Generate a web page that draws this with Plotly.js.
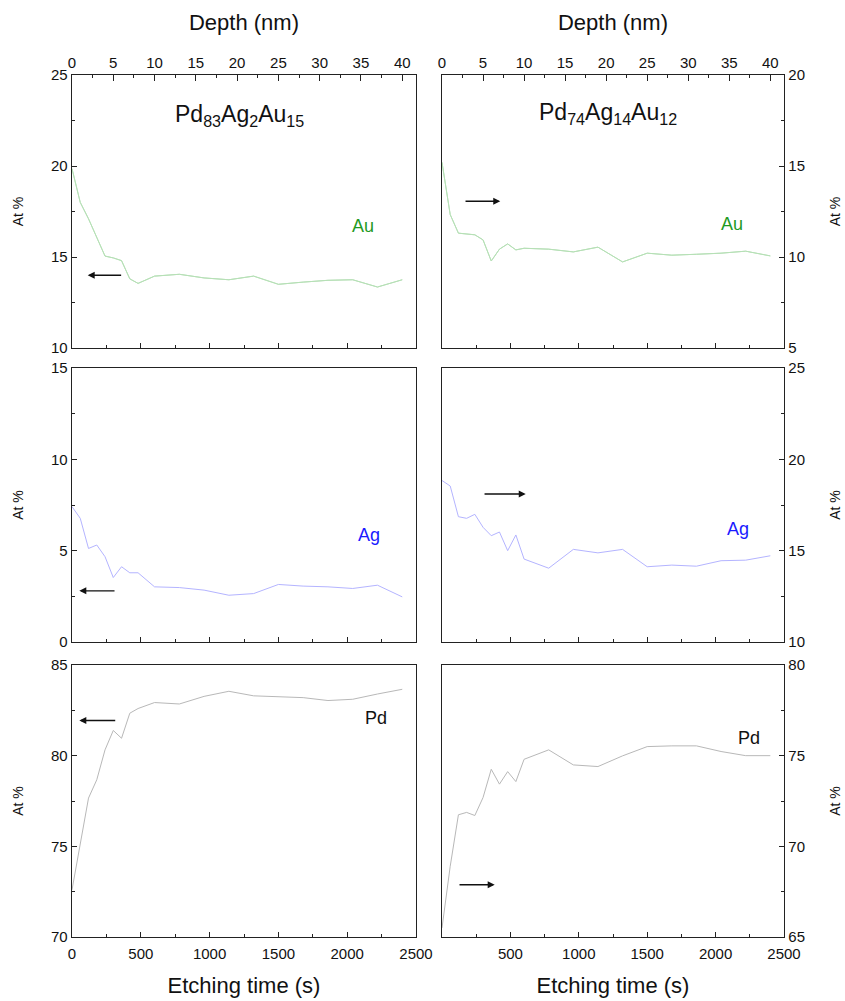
<!DOCTYPE html>
<html>
<head>
<meta charset="utf-8">
<script src="https://cdn.plot.ly/plotly-3.0.1.min.js"></script>
<style>html,body{margin:0;padding:0;background:#fff;}#chart{width:845px;height:1001px;}</style>
</head>
<body>
<div id="chart"></div>
<script>
// ---------- data ----------
const timeLeft = [0,60,120,180,240,300,360,420,480,600,780,960,1140,1320,1500,1680,1860,2040,2220,2400];
const auLeft = [19.85,18.0,17.1,16.05,15.05,14.95,14.8,13.8,13.55,13.95,14.05,13.85,13.75,13.95,13.5,13.62,13.72,13.75,13.35,13.75];
const agLeft = [7.41,6.77,5.12,5.31,4.67,3.53,4.12,3.79,3.79,3.02,2.98,2.84,2.56,2.65,3.15,3.06,3.02,2.93,3.11,2.47];
const pdLeft = [72.6,75.2,77.66,78.67,80.32,81.39,80.96,82.34,82.6,82.93,82.85,83.27,83.55,83.3,83.25,83.2,83.04,83.11,83.4,83.66];

const timeRight = [0,60,120,180,240,300,360,420,480,540,600,780,960,1140,1320,1500,1680,1860,2040,2220,2400];
const auRight = [15.2,12.33,11.31,11.27,11.22,10.94,9.78,10.43,10.72,10.39,10.48,10.43,10.28,10.54,9.73,10.21,10.1,10.15,10.21,10.32,10.06];
const agRight = [18.84,18.54,16.86,16.77,16.99,16.28,15.82,16.02,15.0,15.86,14.54,14.04,15.07,14.88,15.07,14.12,14.21,14.15,14.45,14.48,14.72];
const pdRight = [65.5,68.9,71.74,71.87,71.7,72.69,74.25,73.43,74.12,73.57,74.8,75.32,74.49,74.4,74.99,75.5,75.54,75.54,75.23,75.0,75.0];

const sampleNames = ['Pd<sub>83</sub>Ag<sub>2</sub>Au<sub>15</sub>', 'Pd<sub>74</sub>Ag<sub>14</sub>Au<sub>12</sub>'];
const elementNames = ['Au','Au','Ag','Ag','Pd','Pd'];
const yRanges = [[10,25],[5,20],[0,15],[10,25],[70,85],[65,80]];
const timeRange = [0,2500];
const timeTicks = [0,500,1000,1500,2000,2500];
const timeTickTextRight = ['','500','1000','1500','2000','2500'];
const secondsPerNm = 60;

// arrows (time s, At %)
const arrowTailT = [368,161,320,300,325,117];
const arrowHeadT = [114,426,53,612,53,385];
const arrowLevel = [14.0,13.06,2.8,18.1,81.94,67.88];
// element label anchors (time s, At %)
const labelT = [2112,2120,2160,2164,2209,2244];
const labelY = [16.68,11.8,5.85,16.2,82.06,76.0];
// sample name anchors
const sampleT = [1216,1213];
const sampleY = [22.8,17.9];

// ---------- styles ----------
const FONT = 'Liberation Sans, Arial, Helvetica, sans-serif';
const lineColors = {Au:'#b6e0b6', Ag:'#b4b4ff', Pd:'#b8b8b8'};
const labelColors = {Au:'#1f9a1f', Ag:'#1a1aff', Pd:'#111111'};

const series = [
  {x: timeLeft, y: auLeft, el:'Au'},
  {x: timeRight, y: auRight, el:'Au'},
  {x: timeLeft, y: agLeft, el:'Ag'},
  {x: timeRight, y: agRight, el:'Ag'},
  {x: timeLeft, y: pdLeft, el:'Pd'},
  {x: timeRight, y: pdRight, el:'Pd'}
];

const traces = series.map((s,i) => ({
  type:'scatter', mode:'lines', x:s.x, y:s.y,
  xaxis: i===0 ? 'x' : 'x'+(i+1), yaxis: i===0 ? 'y' : 'y'+(i+1),
  line:{color: lineColors[s.el], width:1}, hoverinfo:'skip'
}));

const colL = [72/845, 416/845], colR = [442/845, 784/845];
const rows = [[1-348/1001, 1-75/1001],[1-642/1001, 1-368/1001],[1-937/1001, 1-665/1001]];

const tickFont = {family: FONT, size: 15, color:'#111'};
const titleFont = {family: FONT, size: 22, color:'#111'};

const layout = {
  width:845, height:1001, margin:{l:0,r:0,t:0,b:0},
  paper_bgcolor:'#fff', plot_bgcolor:'#fff', showlegend:false,
  font:{family:FONT, color:'#111'},
  annotations:[]
};

for (let i=0;i<6;i++){
  const col = i%2===0 ? colL : colR;
  const row = rows[Math.floor(i/2)];
  const xn = i===0 ? 'xaxis' : 'xaxis'+(i+1);
  const yn = i===0 ? 'yaxis' : 'yaxis'+(i+1);
  const xid = i===0 ? 'x' : 'x'+(i+1);
  const yid = i===0 ? 'y' : 'y'+(i+1);
  const bottom = i>=4;
  const xa = {
    domain: col, anchor: yid, range: timeRange,
    ticks:'inside', ticklen:5, tickwidth:1, tickcolor:'#222',
    tickvals: timeTicks, ticktext: (i===5 ? timeTickTextRight : timeTicks.map(String)),
    minor:{ticks:'inside', ticklen:3, tick0:0, dtick:250, tickcolor:'#222'},
    showticklabels: bottom, tickfont: tickFont, ticklabelstandoff: 3,
    showline:true, mirror:true, linecolor:'#222', linewidth:1.3,
    showgrid:false, zeroline:false, fixedrange:true
  };
  if (bottom) xa.title = {text:'Etching time (s)', font:titleFont, standoff:16};
  layout[xn] = xa;
  const ya = {
    domain: row, anchor: xid, range: yRanges[i], side: i%2===0 ? 'left' : 'right',
    ticks:'inside', ticklen:5, tickwidth:1, tickcolor:'#222', dtick:5, tick0:0,
    minor:{ticks:'inside', ticklen:3, dtick:2.5, tick0:0, tickcolor:'#222'},
    tickfont: tickFont,
    showline:true, mirror:true, linecolor:'#222', linewidth:1.3,
    showgrid:false, zeroline:false, fixedrange:true,
    title:{text:'At %', font:{family:FONT, size:14, color:'#111'}, standoff: i%2===0 ? 24 : 26}
  };
  layout[yn] = ya;

  // arrow
  layout.annotations.push({
    xref:xid, yref:yid, axref:xid, ayref:yid,
    x: arrowHeadT[i], y: arrowLevel[i], ax: arrowTailT[i], ay: arrowLevel[i],
    text:'', showarrow:true, arrowhead:2, arrowsize:1, arrowwidth:1.4, arrowcolor:'#111'
  });
  // element label
  layout.annotations.push({
    xref:xid, yref:yid, x: labelT[i], y: labelY[i], text: elementNames[i],
    showarrow:false, font:{family:FONT, size:18, color: labelColors[elementNames[i]]}
  });
}

// sample names
for (let k=0;k<2;k++){
  layout.annotations.push({
    xref: k===0 ? 'x' : 'x2', yref: k===0 ? 'y' : 'y2',
    x: sampleT[k], y: sampleY[k], text: sampleNames[k], showarrow:false,
    font:{family:FONT, size:23, color:'#111'}
  });
}

// depth axes on top of the upper panels
const depthRange = [timeRange[0]/secondsPerNm, timeRange[1]/secondsPerNm];
['xaxis7','xaxis8'].forEach((n,k) => {
  layout[n] = {
    overlaying: k===0 ? 'x' : 'x2', anchor: k===0 ? 'y' : 'y2', side:'top',
    range: depthRange, dtick:5, tick0:0,
    ticks:'inside', ticklen:6, tickwidth:1, tickcolor:'#222',
    minor:{ticks:'inside', ticklen:3, dtick:2.5, tick0:0, tickcolor:'#222'},
    tickfont: tickFont, showline:true, linecolor:'#222', linewidth:1.3,
    showgrid:false, zeroline:false, fixedrange:true,
    title:{text:'Depth (nm)', font:titleFont, standoff:17}
  };
});
// depth traces (same measurements, converted to nm) so the depth axes are bound to data
traces.push({type:'scatter', mode:'lines', x: timeLeft.map(t=>t/secondsPerNm), y: auLeft, xaxis:'x7', yaxis:'y',
  line:{color: lineColors.Au, width:1}, hoverinfo:'skip'});
traces.push({type:'scatter', mode:'lines', x: timeRight.map(t=>t/secondsPerNm), y: auRight, xaxis:'x8', yaxis:'y2',
  line:{color: lineColors.Au, width:1}, hoverinfo:'skip'});

Plotly.newPlot('chart', traces, layout, {staticPlot:true, displayModeBar:false});
</script>
</body>
</html>
